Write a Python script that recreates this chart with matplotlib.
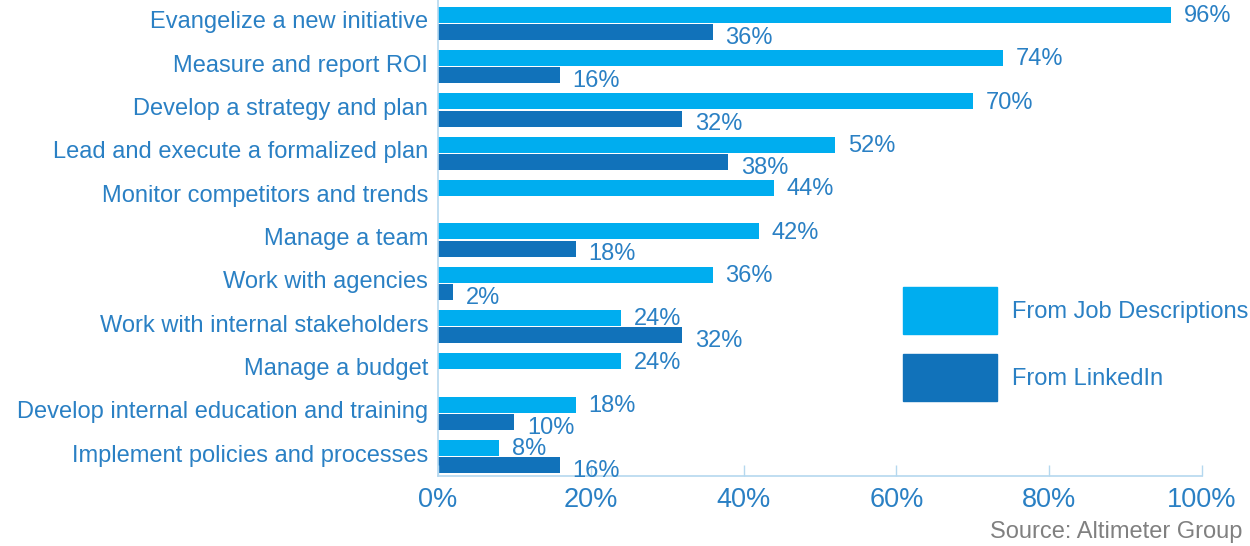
import numpy as np
import matplotlib
matplotlib.use("Agg")
import matplotlib.pyplot as plt
from matplotlib.patches import Patch

# datos
categorias = [
    "Evangelize a new initiative",
    "Measure and report ROI",
    "Develop a strategy and plan",
    "Lead and execute a formalized plan",
    "Monitor competitors and trends",
    "Manage a team",
    "Work with agencies",
    "Work with internal stakeholders",
    "Manage a budget",
    "Develop internal education and training",
    "Implement policies and processes",
]
job_descriptions = [96, 74, 70, 52, 44, 42, 36, 24, 24, 18, 8]
linkedin = [36, 16, 32, 38, None, 18, 2, 32, None, 10, 16]
ticks_x = [0, 20, 40, 60, 80, 100]

color_claro = "#00adef"
color_oscuro = "#1172ba"
color_texto = "#2a80c4"
color_eje = "#b5d8ef"

plt.rcParams["font.family"] = ["Liberation Sans", "DejaVu Sans"]

fig = plt.figure(figsize=(12.5, 5.46), dpi=100)
ax = fig.add_axes([0.3504, 0.128, 0.6112, 0.872])

y = np.arange(len(categorias))
alto = 0.37
desp = 0.2

for i, (v1, v2) in enumerate(zip(job_descriptions, linkedin)):
    ax.barh(y[i] - desp, v1, height=alto, color=color_claro)
    ax.annotate(f"{v1}%", (v1, y[i] - desp), xytext=(9, -1), textcoords="offset points",
                ha="left", va="center", fontsize=17, color=color_texto)
    if v2 is not None:
        ax.barh(y[i] + desp, v2, height=alto, color=color_oscuro)
        ax.annotate(f"{v2}%", (v2, y[i] + desp), xytext=(9, -4), textcoords="offset points",
                    ha="left", va="center", fontsize=17, color=color_texto)

ax.set_xlim(0, 100)
ax.set_ylim(10.45, -0.54)

ax.set_yticks(y - 0.08)
ax.set_yticklabels(categorias, fontsize=17, color=color_texto)
ax.tick_params(axis="y", length=0, pad=7)

ax.set_xticks(ticks_x)
ax.set_xticklabels([f"{t}%" for t in ticks_x], fontsize=19.5, color=color_texto)
ax.tick_params(axis="x", direction="in", length=8, color=color_eje, width=1, pad=8)

for lado in ["top", "right"]:
    ax.spines[lado].set_visible(False)
for lado in ["left", "bottom"]:
    ax.spines[lado].set_color(color_eje)
    ax.spines[lado].set_linewidth(1.2)

# leyenda con cuadros grandes
handles = [Patch(color=color_claro), Patch(color=color_oscuro)]
fig.legend(handles, ["From Job Descriptions", "From LinkedIn"],
           loc="upper left", bbox_to_anchor=(0.7224, 0.4744),
           frameon=False, borderpad=0, borderaxespad=0,
           fontsize=17, handlelength=4.0, handleheight=2.69,
           labelspacing=0.85, handletextpad=0.63, labelcolor=color_texto)

fig.text(0.792, 0.026, "Source: Altimeter Group", fontsize=17, color="#808080",
         ha="left", va="center")

fig.savefig("out.png", dpi=100)
